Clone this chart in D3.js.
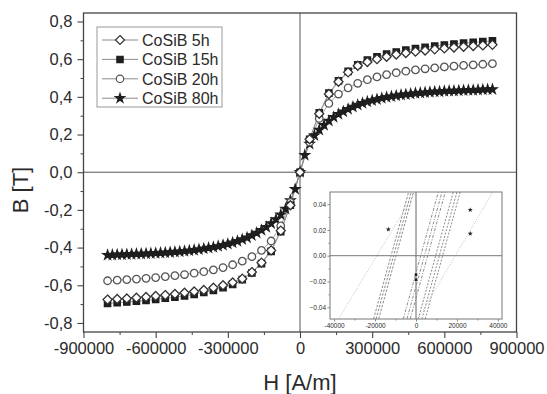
<!DOCTYPE html>
<html>
<head>
<meta charset="utf-8">
<script src="https://cdn.jsdelivr.net/npm/d3@7"></script>
<style>
  body { margin: 0; background: #fff; }
  svg text { font-family: "Liberation Sans", Arial, sans-serif; fill: #2b2b2b; }
</style>
</head>
<body>
<div id="chart"></div>
<script>
// ---- data ----
const seriesNames = ["CoSiB 5h", "CoSiB 15h", "CoSiB 20h", "CoSiB 80h"];

// field steps for 5h / 15h / 20h (A/m)
const H40 = [-800000, -760000, -720000, -680000, -640000, -600000, -560000, -520000, -480000, -440000,
  -400000, -360000, -320000, -280000, -240000, -200000, -160000, -120000, -80000, -40000, 0,
  40000, 80000, 120000, 160000, 200000, 240000, 280000, 320000, 360000, 400000,
  440000, 480000, 520000, 560000, 600000, 640000, 680000, 720000, 760000, 800000];

const B_5h = [-0.676, -0.673, -0.67, -0.666, -0.662, -0.657, -0.652, -0.646, -0.64, -0.633,
  -0.625, -0.613, -0.6, -0.585, -0.565, -0.53, -0.48, -0.415, -0.31, -0.175, 0,
  0.175, 0.31, 0.415, 0.48, 0.53, 0.565, 0.585, 0.6, 0.613, 0.625,
  0.633, 0.64, 0.646, 0.652, 0.657, 0.662, 0.666, 0.67, 0.673, 0.676];

const B_15h = [-0.697, -0.693, -0.689, -0.685, -0.68, -0.675, -0.669, -0.663, -0.656, -0.648,
  -0.638, -0.627, -0.613, -0.595, -0.57, -0.535, -0.485, -0.42, -0.315, -0.175, 0,
  0.175, 0.315, 0.42, 0.485, 0.535, 0.57, 0.595, 0.613, 0.627, 0.638,
  0.648, 0.656, 0.663, 0.669, 0.675, 0.68, 0.685, 0.689, 0.693, 0.697];

const B_20h = [-0.576, -0.573, -0.57, -0.567, -0.563, -0.559, -0.554, -0.549, -0.543, -0.536,
  -0.528, -0.518, -0.506, -0.491, -0.472, -0.448, -0.415, -0.365, -0.285, -0.16, 0,
  0.16, 0.285, 0.365, 0.415, 0.448, 0.472, 0.491, 0.506, 0.518, 0.528,
  0.536, 0.543, 0.549, 0.554, 0.559, 0.563, 0.567, 0.57, 0.573, 0.576];

// field steps for 80h (A/m)
const H20 = [-800000, -780000, -760000, -740000, -720000, -700000, -680000, -660000, -640000, -620000,
  -600000, -580000, -560000, -540000, -520000, -500000, -480000, -460000, -440000, -420000,
  -400000, -380000, -360000, -340000, -320000, -300000, -280000, -260000, -240000, -220000,
  -200000, -180000, -160000, -140000, -120000, -100000, -80000, -60000, -40000, -20000, 0,
  20000, 40000, 60000, 80000, 100000, 120000, 140000, 160000, 180000, 200000,
  220000, 240000, 260000, 280000, 300000, 320000, 340000, 360000, 380000, 400000,
  420000, 440000, 460000, 480000, 500000, 520000, 540000, 560000, 580000, 600000,
  620000, 640000, 660000, 680000, 700000, 720000, 740000, 760000, 780000, 800000];

const B_80h = [-0.44, -0.439, -0.438, -0.437, -0.436, -0.435, -0.434, -0.433, -0.432, -0.431,
  -0.43, -0.428, -0.427, -0.425, -0.423, -0.421, -0.419, -0.416, -0.413, -0.41,
  -0.406, -0.402, -0.398, -0.393, -0.387, -0.381, -0.374, -0.366, -0.357, -0.347,
  -0.335, -0.322, -0.308, -0.292, -0.272, -0.25, -0.225, -0.195, -0.15, -0.09, 0,
  0.09, 0.15, 0.195, 0.225, 0.25, 0.272, 0.292, 0.308, 0.322, 0.335,
  0.347, 0.357, 0.366, 0.374, 0.381, 0.387, 0.393, 0.398, 0.402, 0.406,
  0.41, 0.413, 0.416, 0.419, 0.421, 0.423, 0.425, 0.427, 0.428, 0.43,
  0.431, 0.432, 0.433, 0.434, 0.435, 0.436, 0.437, 0.438, 0.439, 0.44];

const xTicks = [-900000, -600000, -300000, 0, 300000, 600000, 900000];
const yTicks = [-0.8, -0.6, -0.4, -0.2, 0, 0.2, 0.4, 0.6, 0.8];

// inset: straight branches near the origin, H where they enter / leave the box
const insetBEnds = [-0.049, 0.0494];
const insetBranchLo = [-20700, -19500, -18200, -6200, -4400, -2800, 1100, 2900, 4500, -37800, 1000];
const insetBranchHi = [-3600, -2300, -1200, 10900, 12700, 14300, 18200, 20000, 21600, -300, 37500];
const insetStarH = [-13500, 26500, 26500];
const insetStarB = [0.0204, 0.0355, 0.0171];
const insetSquareH = [0, 0];
const insetSquareB = [-0.0147, -0.0186];
const insetXTicks = [-40000, -20000, 0, 20000, 40000];
const insetYTicks = [-0.04, -0.02, 0, 0.02, 0.04];

// ---- layout ----
const W = 547, Hh = 394;
const margin = {top: 13, right: 30.5, bottom: 62, left: 83.5},
  width = W - margin.left - margin.right,
  height = Hh - margin.top - margin.bottom;

const svg = d3.select("#chart").append("svg")
  .attr("width", W).attr("height", Hh);

const g = svg.append("g").attr("transform", `translate(${margin.left},${margin.top})`);

const x = d3.scaleLinear().domain([-900000, 900000]).range([0, width]);
const y = d3.scaleLinear().domain([-0.848, 0.845]).range([height, 0]);

const comma = d3.formatLocale({decimal: ",", thousands: "", grouping: [3], currency: ["", ""], minus: "-"});
const fmtY = comma.format(".1f");

// minor ticks
g.append("g").attr("transform", `translate(0,${height})`)
  .call(d3.axisBottom(x).tickValues(d3.range(-750000, 900000, 300000)).tickSize(3).tickFormat(""))
  .call(a => a.select(".domain").remove())
  .call(a => a.selectAll("line").attr("stroke", "#444"));
g.append("g")
  .call(d3.axisLeft(y).tickValues(d3.range(-0.7, 0.8, 0.2)).tickSize(3).tickFormat(""))
  .call(a => a.select(".domain").remove())
  .call(a => a.selectAll("line").attr("stroke", "#444"));

// major ticks
g.append("g").attr("transform", `translate(0,${height})`)
  .call(d3.axisBottom(x).tickValues(xTicks).tickSize(6).tickPadding(4).tickFormat(d => String(d)))
  .call(a => a.select(".domain").remove())
  .call(a => a.selectAll("line").attr("stroke", "#444").attr("stroke-width", 1.1))
  .call(a => a.selectAll("text").attr("font-size", 16.5).attr("fill", "#2b2b2b"));
g.append("g")
  .call(d3.axisLeft(y).tickValues(yTicks).tickSize(6).tickPadding(5).tickFormat(fmtY))
  .call(a => a.select(".domain").remove())
  .call(a => a.selectAll("line").attr("stroke", "#444").attr("stroke-width", 1.1))
  .call(a => a.selectAll("text").attr("font-size", 16.5).attr("fill", "#2b2b2b"));

// axis titles
svg.append("text").attr("x", 300).attr("y", 390).attr("text-anchor", "middle")
  .attr("font-size", 22).text("H [A/m]");
svg.append("text").attr("transform", "translate(28,190) rotate(-90)").attr("text-anchor", "middle")
  .attr("font-size", 22).text("B [T]");

// zero lines
g.append("line").attr("x1", x(0)).attr("x2", x(0)).attr("y1", 0).attr("y2", height)
  .attr("stroke", "#555").attr("stroke-width", 1);
g.append("line").attr("x1", 0).attr("x2", width).attr("y1", y(0)).attr("y2", y(0))
  .attr("stroke", "#555").attr("stroke-width", 1);

// series
const series = [
  {name: seriesNames[3], H: H20, B: B_80h, sym: "star"},
  {name: seriesNames[2], H: H40, B: B_20h, sym: "circle"},
  {name: seriesNames[1], H: H40, B: B_15h, sym: "square"},
  {name: seriesNames[0], H: H40, B: B_5h, sym: "diamond"}
];

const symbolOf = {
  star: d3.symbol().type(d3.symbolStar).size(26),
  circle: d3.symbol().type(d3.symbolCircle).size(44),
  square: d3.symbol().type(d3.symbolSquare).size(40),
  diamond: d3.symbol().type(d3.symbolDiamond2).size(52)
};
const fillOf = {star: "#1e1e1e", circle: "#fff", square: "#1e1e1e", diamond: "#fff"};
const strokeOf = {star: "#1e1e1e", circle: "#555", square: "#1e1e1e", diamond: "#333"};

const line = d3.line().x(d => x(d[0])).y(d => y(d[1]));

series.forEach(s => {
  g.append("path").datum(d3.zip(s.H, s.B)).attr("d", line)
    .attr("fill", "none").attr("stroke", "#8a8a8a").attr("stroke-width", 0.8);
});
series.forEach(s => {
  g.append("g").selectAll("path").data(d3.zip(s.H, s.B)).join("path")
    .attr("transform", d => `translate(${x(d[0])},${y(d[1])})`)
    .attr("d", symbolOf[s.sym])
    .attr("fill", fillOf[s.sym]).attr("stroke", strokeOf[s.sym]).attr("stroke-width", 1.3);
});

// frame
g.append("rect").attr("width", width).attr("height", height)
  .attr("fill", "none").attr("stroke", "#444").attr("stroke-width", 1.3);

// legend
const legend = svg.append("g").attr("transform", "translate(97,27)");
legend.append("rect").attr("width", 125).attr("height", 80)
  .attr("fill", "#fff").attr("stroke", "#999").attr("stroke-width", 1);
const legendOrder = ["diamond", "square", "circle", "star"];
seriesNames.forEach((name, i) => {
  const row = legend.append("g").attr("transform", `translate(0,${13 + i * 19.4})`);
  row.append("line").attr("x1", 5).attr("x2", 41).attr("stroke", "#8a8a8a").attr("stroke-width", 1);
  row.append("path").attr("transform", "translate(23,0)").attr("d", symbolOf[legendOrder[i]])
    .attr("fill", fillOf[legendOrder[i]]).attr("stroke", strokeOf[legendOrder[i]]).attr("stroke-width", 1.2);
  row.append("text").attr("x", 45).attr("y", 6).attr("font-size", 16).text(name);
});

// ---- inset ----
const inset = {left: 330, top: 192, w: 172, h: 127};
const ig = svg.append("g").attr("transform", `translate(${inset.left},${inset.top})`);
const xi = d3.scaleLinear().domain([-42000, 42000]).range([0, inset.w]);
const yi = d3.scaleLinear().domain([-0.0491, 0.0494]).range([inset.h, 0]);

ig.append("rect").attr("width", inset.w).attr("height", inset.h).attr("fill", "#fff");

svg.append("clipPath").attr("id", "iclip").append("rect")
  .attr("width", inset.w).attr("height", inset.h);

const ib = ig.append("g").attr("clip-path", "url(#iclip)");
ib.append("line").attr("x1", xi(0)).attr("x2", xi(0)).attr("y1", 0).attr("y2", inset.h)
  .attr("stroke", "#666").attr("stroke-width", 1);
ib.append("line").attr("x1", 0).attr("x2", inset.w).attr("y1", yi(0)).attr("y2", yi(0))
  .attr("stroke", "#777").attr("stroke-width", 1);

const branches = insetBranchLo.map((lo, i) => [[lo, insetBEnds[0]], [insetBranchHi[i], insetBEnds[1]]]);
const iline = d3.line().x(d => xi(d[0])).y(d => yi(d[1]));
ib.selectAll(".br").data(branches).join("path").attr("class", "br")
  .attr("d", iline).attr("fill", "none")
  .attr("stroke", (d, i) => i < 9 ? "#8c8c8c" : "#b8b8b8")
  .attr("stroke-width", (d, i) => i < 9 ? 1 : 0.9)
  .attr("stroke-dasharray", (d, i) => i < 3 ? "2.5,1.5" : i < 6 ? "3,1.5,1,1.5" : i < 9 ? "2,1.5" : "1,1.5");

ib.selectAll(".st").data(d3.zip(insetStarH, insetStarB)).join("path").attr("class", "st")
  .attr("transform", d => `translate(${xi(d[0])},${yi(d[1])})`)
  .attr("d", d3.symbol().type(d3.symbolStar).size(8)).attr("fill", "#222");
ib.selectAll(".sq").data(d3.zip(insetSquareH, insetSquareB)).join("path").attr("class", "sq")
  .attr("transform", d => `translate(${xi(d[0])},${yi(d[1])})`)
  .attr("d", d3.symbol().type(d3.symbolSquare).size(7)).attr("fill", "#222");

ig.append("rect").attr("width", inset.w).attr("height", inset.h)
  .attr("fill", "none").attr("stroke", "#777").attr("stroke-width", 1);

// inset axes
ig.append("g").attr("transform", `translate(0,${inset.h})`)
  .call(d3.axisBottom(xi).tickValues([-30000, -10000, 10000, 30000]).tickSize(1.5).tickFormat(""))
  .call(a => a.select(".domain").remove())
  .call(a => a.selectAll("line").attr("stroke", "#888"));
ig.append("g").attr("transform", `translate(0,${inset.h})`)
  .call(d3.axisBottom(xi).tickValues(insetXTicks).tickSize(2.5).tickPadding(1.5).tickFormat(d => String(d)))
  .call(a => a.select(".domain").remove())
  .call(a => a.selectAll("line").attr("stroke", "#888"))
  .call(a => a.selectAll("text").attr("font-size", 6.5).attr("fill", "#888"));
ig.append("g")
  .call(d3.axisLeft(yi).tickValues([-0.03, -0.01, 0.01, 0.03]).tickSize(1.5).tickFormat(""))
  .call(a => a.select(".domain").remove())
  .call(a => a.selectAll("line").attr("stroke", "#888"));
ig.append("g")
  .call(d3.axisLeft(yi).tickValues(insetYTicks).tickSize(2.5).tickPadding(1.5).tickFormat(d3.format(".2f")))
  .call(a => a.select(".domain").remove())
  .call(a => a.selectAll("line").attr("stroke", "#888"))
  .call(a => a.selectAll("text").attr("font-size", 6.5).attr("fill", "#888"));
</script>
</body>
</html>
